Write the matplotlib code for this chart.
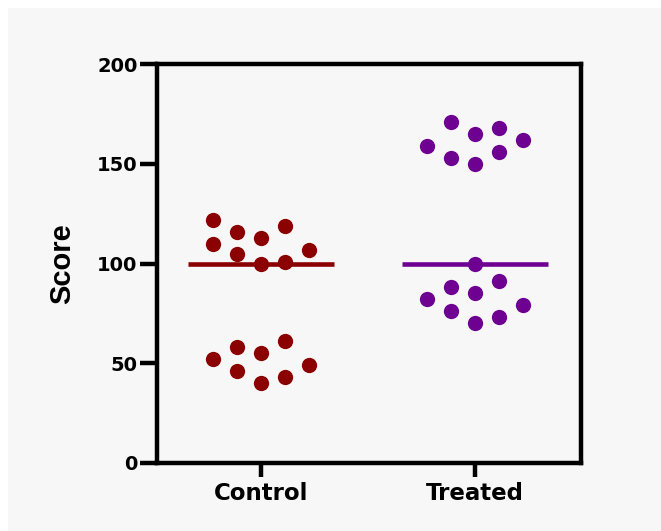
import matplotlib
matplotlib.use("Agg")
import matplotlib.pyplot as plt
import numpy as np

# data
groups = ["Control", "Treated"]
control = [122, 110, 116, 105, 113, 100, 119, 101, 107,
           52, 58, 46, 55, 40, 61, 43, 49]
treated = [159, 171, 153, 165, 150, 168, 156, 162, 100,
           82, 88, 76, 85, 70, 91, 73, 79]
yticks = [0, 50, 100, 150, 200]

# scatter column for each point (layout only)
control_slot = [-2, -2, -1, -1, 0, 0, 1, 1, 2, -2, -1, -1, 0, 0, 1, 1, 2]
treated_slot = [-2, -1, -1, 0, 0, 1, 1, 2, 0, -2, -1, -1, 0, 0, 1, 1, 2]

colors = ["#8B0000", "#6E0092"]
step = 0.112
half = 0.34

W, H = 661, 531
fig = plt.figure(figsize=(W / 100, H / 100), dpi=100, facecolor="white")
bg = plt.Rectangle((8 / W, 0), 1, 1 - 8 / H, transform=fig.transFigure,
                   facecolor="#F7F7F7", edgecolor="none", zorder=-10)
fig.add_artist(bg)
ax = fig.add_axes([157 / W, 1 - 463 / H, (581 - 157) / W, (463 - 64) / H])
ax.set_facecolor("#F7F7F7")

for i, (vals, slots) in enumerate([(control, control_slot), (treated, treated_slot)]):
    xs = i + np.array(slots) * step
    ax.plot(xs, vals, "o", color=colors[i], markersize=11, markeredgewidth=0,
            clip_on=False, zorder=3)
    med = np.median(vals)
    ax.plot([i - half, i + half], [med, med], color=colors[i], lw=3.3,
            solid_capstyle="butt", zorder=3)

ax.set_xlim(-0.485, 1.495)
ax.set_ylim(0, 200)
ax.set_yticks(yticks)
ax.set_xticks([0, 1])
ax.set_xticklabels(groups)

for s in ax.spines.values():
    s.set_linewidth(3.2)
    s.set_color("black")

ax.tick_params(axis="y", length=12, width=3.2, pad=2, labelsize=14)
ax.tick_params(axis="x", length=10, width=3.2, pad=4, labelsize=16.5)
for lab in ax.get_yticklabels() + ax.get_xticklabels():
    lab.set_fontweight("bold")
    lab.set_family("DejaVu Sans")

ax.set_ylabel("Score", fontsize=21, fontweight="bold", family="Liberation Sans")
ax.yaxis.set_label_coords(-0.19, 0.5)

fig.savefig("out.png", dpi=100, facecolor=fig.get_facecolor())
